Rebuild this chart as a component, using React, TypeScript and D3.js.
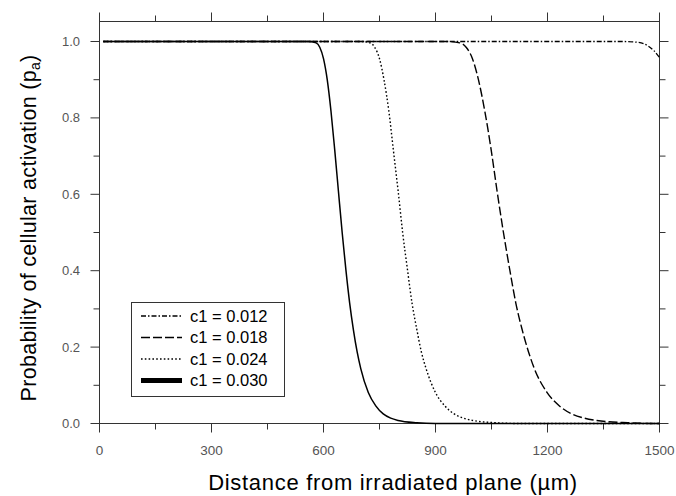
import React from "react";
import * as d3 from "d3";

// Data
const xC012 = [10, 1400, 1440, 1470, 1485, 1500];
const pC012 = [1, 1, 0.998, 0.988, 0.976, 0.958];

const xC018 = [10, 832, 932, 965, 982, 999, 1015, 1032, 1049, 1065, 1082, 1099, 1115, 1132, 1149, 1165, 1199, 1232, 1265, 1299, 1332, 1415, 1480, 1500];
const pC018 = [1, 1, 1, 0.9965, 0.985, 0.955, 0.9, 0.818, 0.717, 0.608, 0.5, 0.402, 0.316, 0.246, 0.188, 0.143, 0.081, 0.046, 0.025, 0.014, 0.008, 0.002, 0, 0];

const xC024 = [10, 625, 700, 725, 737, 750, 762, 775, 787, 800, 812, 825, 837, 850, 862, 875, 900, 925, 950, 975, 1000, 1062, 1120, 1500];
const pC024 = [1, 1, 1, 0.9965, 0.985, 0.955, 0.9, 0.818, 0.717, 0.608, 0.5, 0.402, 0.316, 0.246, 0.188, 0.143, 0.081, 0.046, 0.025, 0.014, 0.008, 0.002, 0, 0];

const xC030 = [10, 500, 560, 580, 590, 600, 610, 620, 630, 640, 650, 660, 670, 680, 690, 700, 720, 740, 760, 780, 800, 850, 900, 1500];
const pC030 = [1, 1, 1, 0.9965, 0.985, 0.955, 0.9, 0.818, 0.717, 0.608, 0.5, 0.402, 0.316, 0.246, 0.188, 0.143, 0.081, 0.046, 0.025, 0.014, 0.008, 0.002, 0, 0];

const seriesLabels = ["c1 = 0.012", "c1 = 0.018", "c1 = 0.024", "c1 = 0.030"];
const xTickValues = [0, 300, 600, 900, 1200, 1500];
const xMinorValues = [150, 450, 750, 1050, 1350];
const yTickValues = [0, 0.2, 0.4, 0.6, 0.8, 1.0];
const yMinorValues = [0.1, 0.3, 0.5, 0.7, 0.9];

const W = 676;
const H = 496;
const L = 99.5, R = 659.5, T = 21.5, B = 423.5;

export default function App() {
  const x = d3.scaleLinear().domain([0, 1500]).range([L, R]);
  const y = d3.scaleLinear().domain([0, 1]).range([B, 41.5]);

  const mk = (xs: number[], ps: number[]) =>
    d3.line<number>().x((_, i) => x(xs[i])).y((_, i) => y(ps[i])).curve(d3.curveMonotoneX)(xs) || "";

  const series = [
    { d: mk(xC012, pC012), dash: "5,2,1.5,2", w: 1.3, lw: 1.3 },
    { d: mk(xC018, pC018), dash: "9,3", w: 1.4, lw: 1.4 },
    { d: mk(xC024, pC024), dash: "1.6,2.2", w: 1.4, lw: 1.4 },
    { d: mk(xC030, pC030), dash: "", w: 1.5, lw: 5 },
  ];

  const tickColor = "#333";
  const labelColor = "#555";

  return (
    <svg width={W} height={H} style={{ position: "absolute", left: 0, top: 0, background: "#fff" }}
      fontFamily="'Liberation Sans', Arial, sans-serif">
      <rect x={0} y={0} width={W} height={H} fill="#fff" />
      {/* frame */}
      <rect x={L} y={T} width={R - L} height={B - T} fill="none" stroke={tickColor} strokeWidth={1} />
      {/* x ticks bottom and top */}
      {xTickValues.map((v) => (
        <g key={"xt" + v}>
          <line x1={x(v)} x2={x(v)} y1={B} y2={B + 9} stroke={tickColor} />
          <line x1={x(v)} x2={x(v)} y1={T} y2={T - 9} stroke={tickColor} />
          <text x={x(v)} y={455} textAnchor="middle" fontSize={13.5} fill={labelColor}>{v}</text>
        </g>
      ))}
      {xMinorValues.map((v) => (
        <g key={"xm" + v}>
          <line x1={x(v)} x2={x(v)} y1={B} y2={B + 6} stroke={tickColor} />
          <line x1={x(v)} x2={x(v)} y1={T} y2={T - 6} stroke={tickColor} />
        </g>
      ))}
      {/* y ticks left and right */}
      {yTickValues.map((v) => (
        <g key={"yt" + v}>
          <line x1={L} x2={L - 9} y1={y(v)} y2={y(v)} stroke={tickColor} />
          <line x1={R} x2={R + 9} y1={y(v)} y2={y(v)} stroke={tickColor} />
          <text x={80} y={y(v) + 4.5} textAnchor="end" fontSize={13} fill={labelColor}>{v.toFixed(1)}</text>
        </g>
      ))}
      {yMinorValues.map((v) => (
        <g key={"ym" + v}>
          <line x1={L} x2={L - 6} y1={y(v)} y2={y(v)} stroke={tickColor} />
          <line x1={R} x2={R + 6} y1={y(v)} y2={y(v)} stroke={tickColor} />
        </g>
      ))}
      {/* curves */}
      {series.map((s, i) => (
        <path key={"s" + i} d={s.d} fill="none" stroke="#000" strokeWidth={s.w}
          strokeDasharray={s.dash || undefined} />
      ))}
      {/* legend */}
      <rect x={131.5} y={302.5} width={153} height={94} fill="#fff" stroke={tickColor} strokeWidth={1} />
      {series.map((s, i) => (
        <g key={"lg" + i}>
          <line x1={141} x2={182} y1={316 + i * 21.5} y2={316 + i * 21.5} stroke="#000"
            strokeWidth={s.lw} strokeDasharray={s.dash || undefined} />
          <text x={190} y={321.5 + i * 21.5} fontSize={16.5} fill="#000">{seriesLabels[i]}</text>
        </g>
      ))}
      {/* axis titles */}
      <text x={393} y={490} textAnchor="middle" fontSize={22} letterSpacing={0.7} fill="#000">
        Distance from irradiated plane (µm)
      </text>
      <text transform="translate(36,228) rotate(-90)" textAnchor="middle" fontSize={21.5} letterSpacing={0.3} fill="#000">
        Probability of cellular activation (p<tspan fontSize={14} dy={4}>a</tspan><tspan dy={-4}>)</tspan>
      </text>
    </svg>
  );
}
